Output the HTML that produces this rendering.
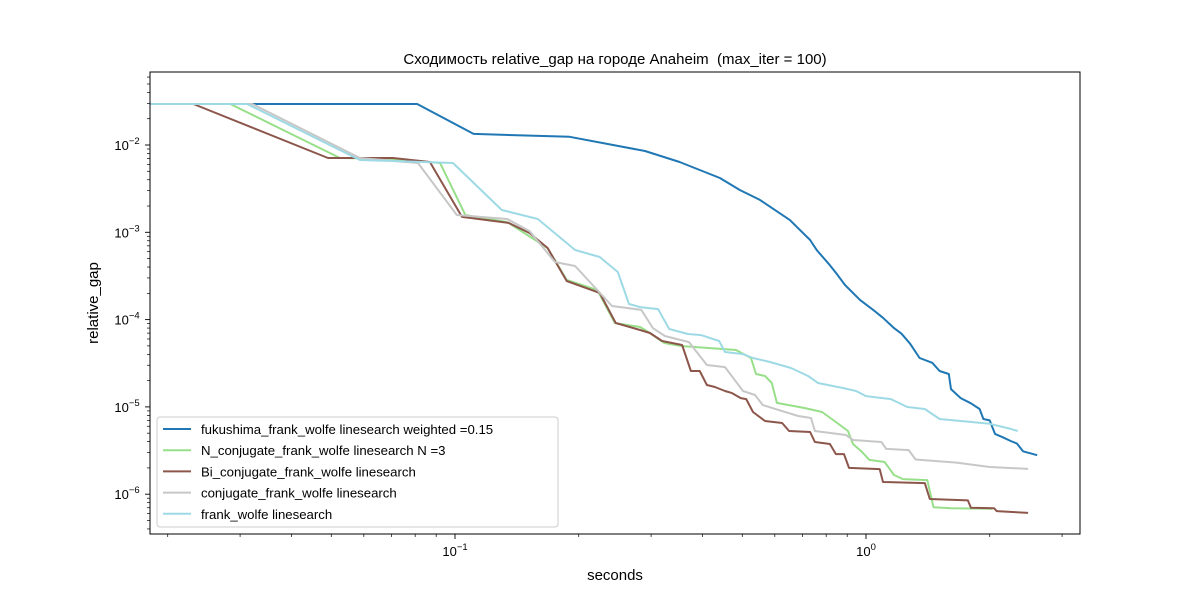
<!DOCTYPE html>
<html><head><meta charset="utf-8"><style>
body{margin:0;background:#fff}
svg{font-family:"Liberation Sans","DejaVu Sans",sans-serif}
</style></head><body>
<svg id="chart" width="1200" height="600" viewBox="0 0 1200 600" xmlns="http://www.w3.org/2000/svg">
<rect width="1200" height="600" fill="#fff"/>
<text x="615" y="64" font-size="15" text-anchor="middle" style="white-space:pre">Сходимость relative_gap на городе Anaheim  (max_iter = 100)</text>
<g id="plot"></g>
<text x="615" y="580" font-size="15" text-anchor="middle">seconds</text>
<text x="0" y="0" font-size="15" text-anchor="middle" transform="translate(98,303) rotate(-90)">relative_gap</text>
</svg>
<script>
const seriesNames=["fukushima_frank_wolfe linesearch weighted =0.15","N_conjugate_frank_wolfe linesearch N =3","Bi_conjugate_frank_wolfe linesearch","conjugate_frank_wolfe linesearch","frank_wolfe linesearch"];
const seriesColors=["#1f77b4","#98df8a","#8c564b","#c7c7c7","#9edae5"];
const fukuX=[0.0181,0.0809,0.111,0.190,0.290,0.352,0.441,0.493,0.552,0.653,0.731,0.760,0.817,0.850,0.889,0.967,1.05,1.10,1.17,1.22,1.28,1.35,1.45,1.51,1.59,1.61,1.70,1.80,1.89,1.93,2.00,2.06,2.15,2.25,2.33,2.41,2.61];
const fukuY=[0.0295,0.0295,0.0134,0.0124,0.00854,0.00638,0.00419,0.00305,0.00235,0.00138,0.000817,0.000620,0.000420,0.000330,0.000249,0.000168,0.000125,0.000105,8.0e-5,6.9e-5,5.3e-5,3.63e-5,3.2e-5,2.58e-5,2.38e-5,1.60e-5,1.26e-5,1.1e-5,9.46e-6,7.27e-6,7.0e-6,4.9e-6,4.5e-6,4.07e-6,3.8e-6,3.1e-6,2.8e-6];
const nconjX=[0.0181,0.0284,0.0525,0.0707,0.092,0.106,0.134,0.168,0.187,0.222,0.245,0.282,0.298,0.323,0.355,0.483,0.525,0.54,0.568,0.59,0.607,0.711,0.782,0.845,0.904,0.93,0.973,1.02,1.11,1.17,1.23,1.41,1.46,1.61,2.03];
const nconjY=[0.0295,0.0295,0.0071,0.00692,0.00622,0.00158,0.00131,0.000661,0.000284,0.000218,9.14e-5,8.22e-5,7.02e-5,5.4e-5,4.99e-5,4.49e-5,3.63e-5,2.38e-5,2.26e-5,1.88e-5,1.11e-5,9.7e-6,8.74e-6,6.72e-6,5.3e-6,3.76e-6,3.12e-6,2.47e-6,2.34e-6,1.66e-6,1.49e-6,1.45e-6,7.1e-7,6.9e-7,6.8e-7];
const biX=[0.0181,0.0231,0.0491,0.0707,0.0869,0.104,0.135,0.152,0.168,0.187,0.225,0.246,0.282,0.298,0.319,0.357,0.375,0.394,0.41,0.429,0.454,0.472,0.496,0.511,0.531,0.568,0.625,0.65,0.731,0.751,0.817,0.845,0.884,0.909,1.08,1.10,1.39,1.43,1.77,1.80,2.05,2.08,2.48];
const biY=[0.0295,0.0295,0.0071,0.0071,0.00638,0.0015,0.00128,0.00098,0.000661,0.000277,0.000202,9.14e-5,7.6e-5,7.02e-5,5.69e-5,5.12e-5,2.58e-5,2.58e-5,1.78e-5,1.69e-5,1.52e-5,1.44e-5,1.26e-5,1.23e-5,8.74e-6,6.89e-6,6.54e-6,5.3e-6,5.16e-6,3.96e-6,3.76e-6,2.88e-6,2.88e-6,2.0e-6,1.94e-6,1.38e-6,1.34e-6,8.8e-7,8.5e-7,7.0e-7,6.9e-7,6.4e-7,6.1e-7];
const conjX=[0.0181,0.0321,0.0587,0.0813,0.101,0.134,0.152,0.175,0.196,0.241,0.284,0.303,0.324,0.371,0.41,0.454,0.502,0.537,0.561,0.614,0.684,0.735,0.751,0.894,0.93,1.09,1.12,1.27,1.32,1.66,2.0,2.48];
const conjY=[0.0295,0.0295,0.0071,0.00622,0.00158,0.00142,0.00103,0.000457,0.000411,0.000143,0.000129,8.0e-5,6.49e-5,5.53e-5,3.02e-5,2.86e-5,1.52e-5,1.37e-5,1.05e-5,9.2e-6,7.87e-6,7.46e-6,5.3e-6,4.77e-6,4.18e-6,3.96e-6,3.3e-6,3.2e-6,2.5e-6,2.3e-6,2.05e-6,1.95e-6];
const fwX=[0.0181,0.0312,0.0587,0.0989,0.130,0.159,0.196,0.225,0.249,0.265,0.282,0.312,0.332,0.369,0.397,0.439,0.454,0.502,0.531,0.584,0.657,0.723,0.764,0.875,0.946,1.0,1.15,1.26,1.39,1.51,2.0,2.25,2.34];
const fwY=[0.0295,0.0295,0.00673,0.00622,0.0018,0.00142,0.000627,0.000521,0.000351,0.000151,0.000139,0.000132,7.8e-5,6.84e-5,6.65e-5,5.69e-5,4.25e-5,4.03e-5,3.63e-5,3.27e-5,2.79e-5,2.26e-5,1.88e-5,1.65e-5,1.52e-5,1.33e-5,1.23e-5,9.97e-6,9.46e-6,7.27e-6,6.4e-6,5.6e-6,5.3e-6];
const xTickExps=[-1,0];
const yTickExps=[-2,-3,-4,-5,-6];

const L=150,R=1080,T=72,B=534;
const X0=455,XD=411, Y0=145, YD=87.3;
function xs(v){return X0+(Math.log10(v)+1)*XD;}
function ys(v){return Y0-(Math.log10(v)+2)*YD;}
const NS="http://www.w3.org/2000/svg";
const g=document.getElementById('plot');
function mk(t,a,p){const e=document.createElementNS(NS,t);for(const k in a)e.setAttribute(k,a[k]);(p||g).appendChild(e);return e;}
const defs=mk('defs',{});const cp=mk('clipPath',{id:'clip'},defs);mk('rect',{x:L,y:T,width:R-L,height:B-T},cp);
const allX=[fukuX,nconjX,biX,conjX,fwX], allY=[fukuY,nconjY,biY,conjY,fwY];
const lines=mk('g',{'clip-path':'url(#clip)'});


for(let s=0;s<5;s++){
  const d=allX[s].map((x,i)=>(i?'L':'M')+xs(x).toFixed(1)+','+ys(allY[s][i]).toFixed(1)).join(' ');
  const p=mk('path',{d:d,fill:'none',stroke:seriesColors[s],'stroke-width':2,'stroke-linejoin':'round'},lines);
  
  
}
const fr=mk('rect',{x:L,y:T,width:R-L,height:B-T,fill:'none',stroke:'#000','stroke-width':1});


for(let e=-2;e<=0;e++){for(let m=1;m<10;m++){const v=m*Math.pow(10,e);const x=xs(v);if(x<L||x>R)continue;
  mk('line',{x1:x,y1:B,x2:x,y2:B+(m==1?5:3),stroke:'#000','stroke-width':m==1?0.9:0.7});}}
xTickExps.forEach(e=>{const x=xs(Math.pow(10,e));
  const t=mk('text',{x:x,y:B+22,'font-size':13,'text-anchor':'middle'});
  
  
  t.textContent='10';const sp=mk('tspan',{dy:-6,'font-size':9.5},t);sp.textContent=String(e).replace('-','\u2212');});
for(let e=-7;e<=-1;e++){for(let m=1;m<10;m++){const v=m*Math.pow(10,e);const y=ys(v);if(y<T||y>B)continue;
  mk('line',{x1:L,y1:y,x2:L-(m==1?5:3),y2:y,stroke:'#000','stroke-width':m==1?0.9:0.7});}}
yTickExps.forEach(e=>{const y=ys(Math.pow(10,e));
  const t=mk('text',{x:127,y:y+5,'font-size':13,'text-anchor':'middle'});
  
  
  t.textContent='10';const sp=mk('tspan',{dy:-6,'font-size':9.5},t);sp.textContent=String(e).replace('-','\u2212');});
const lg=mk('g',{});


mk('rect',{x:157,y:417,width:401,height:110,rx:3,fill:'#fff','fill-opacity':0.8,stroke:'#ccc'},lg);
seriesNames.forEach((n,i)=>{const y=429+i*21.2;
  const it=mk('g',{},lg);
  
  
  mk('line',{x1:163,y1:y,x2:191,y2:y,stroke:seriesColors[i],'stroke-width':2},it);
  const t=mk('text',{x:201,y:y+5,'font-size':13.2},it);t.textContent=n;});
</script>
</body></html>
